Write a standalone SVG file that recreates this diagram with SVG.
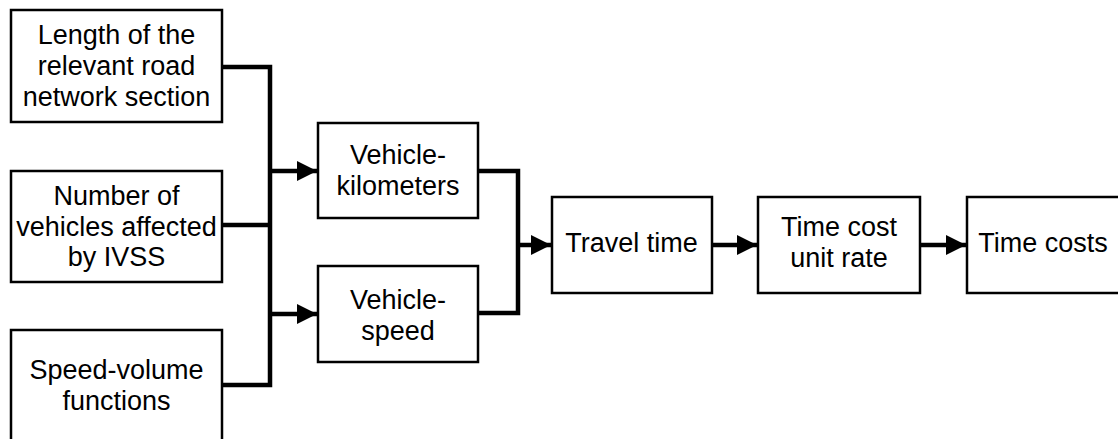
<svg xmlns="http://www.w3.org/2000/svg" width="1118" height="439" viewBox="0 0 1118 439">
<style>
.box{fill:#fff;stroke:#000;stroke-width:2.5}
.t{font-family:"Liberation Sans",Arial,sans-serif;font-size:27px;fill:#000;text-anchor:middle}
.c{fill:none;stroke:#000;stroke-width:4.5;stroke-linejoin:miter}
</style>
<defs>
<marker id="ah" markerUnits="userSpaceOnUse" markerWidth="22" markerHeight="22" refX="20" refY="11" orient="auto" viewBox="0 0 22 22">
<path d="M0,1 L20,11 L0,21 Z" fill="#000"/>
</marker>
</defs>
<rect width="1118" height="439" fill="#fff"/>
<g id="connectors">
<path class="c" d="M222,67 H270 M222,225 H270 M222,385 H270 M270,64.8 V387.2"/>
<path class="c" d="M270,171 H317" marker-end="url(#ah)"/>
<path class="c" d="M270,314 H317" marker-end="url(#ah)"/>
<path class="c" d="M478,171 H518 V313 H478"/>
<path class="c" d="M518,245 H551" marker-end="url(#ah)"/>
<path class="c" d="M712,245 H757" marker-end="url(#ah)"/>
<path class="c" d="M920,245 H966" marker-end="url(#ah)"/>
</g>
<g id="n1">
<rect class="box" x="11" y="10" width="211" height="112"/>
<text class="t" x="116.5" y="43.5">Length of the</text>
<text class="t" x="116.5" y="74.5">relevant road</text>
<text class="t" x="116.5" y="105.5">network section</text>
</g>
<g id="n2">
<rect class="box" x="11" y="171" width="211" height="111"/>
<text class="t" x="116.5" y="204.5">Number of</text>
<text class="t" x="116.5" y="235.5">vehicles affected</text>
<text class="t" x="116.5" y="266">by IVSS</text>
</g>
<g id="n3">
<rect class="box" x="11" y="330" width="211" height="112"/>
<text class="t" x="116.5" y="378.5">Speed-volume</text>
<text class="t" x="116.5" y="409.5">functions</text>
</g>
<g id="n4">
<rect class="box" x="318" y="123" width="160" height="95"/>
<text class="t" x="398" y="163.5">Vehicle-</text>
<text class="t" x="398" y="194.5">kilometers</text>
</g>
<g id="n5">
<rect class="box" x="318" y="266" width="160" height="96"/>
<text class="t" x="398" y="308.5">Vehicle-</text>
<text class="t" x="398" y="339.5">speed</text>
</g>
<g id="n6">
<rect class="box" x="552" y="197" width="160" height="96"/>
<text class="t" x="631.5" y="252">Travel time</text>
</g>
<g id="n7">
<rect class="box" x="758" y="197" width="162" height="96"/>
<text class="t" x="839" y="236">Time cost</text>
<text class="t" x="839" y="267">unit rate</text>
</g>
<g id="n8">
<rect class="box" x="967" y="197" width="155" height="96"/>
<text class="t" x="1043" y="252">Time costs</text>
</g>
</svg>
